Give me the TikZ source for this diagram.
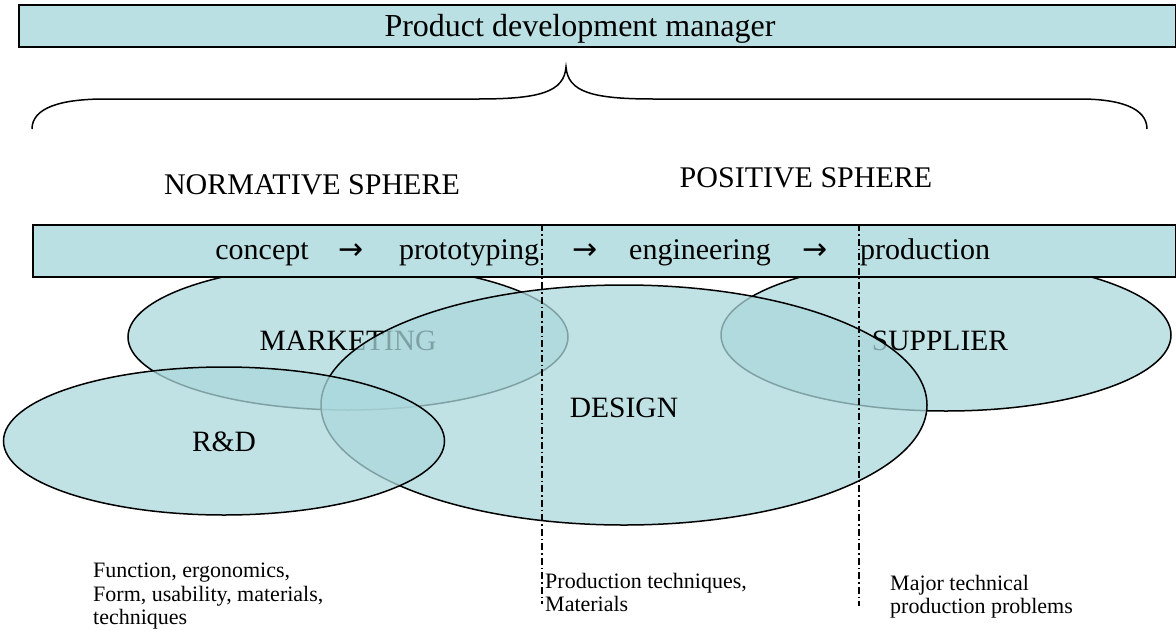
\documentclass[tikz,border=0pt]{standalone}
\usepackage{fontspec}
\setmainfont{Liberation Serif}
\newfontfamily\arrowfont{DejaVu Sans}
\usetikzlibrary{shapes.geometric}
\definecolor{boxblue}{RGB}{187,224,227}
\definecolor{ellblue}{RGB}{171,216,220}
\begin{document}
\begin{tikzpicture}[x=1pt,y=-1pt,
  boxstyle/.style={draw=black,line width=2pt,fill=boxblue,inner sep=0pt,anchor=north west},
  ell/.style={ellipse,draw=black,line width=1.5pt,fill=ellblue,fill opacity=0.75,text opacity=1,inner sep=0pt},
  elltext/.style={font=\fontsize{29.5}{32}\selectfont,anchor=base,inner sep=0pt},
  bartext/.style={font=\fontsize{30}{32}\selectfont,anchor=base,inner sep=0pt},
  arrowtext/.style={font=\arrowfont\fontsize{30}{32}\selectfont,anchor=base,inner sep=0pt},
  spheretext/.style={font=\fontsize{30}{32}\selectfont,anchor=base,inner sep=0pt},
  notetext/.style={font=\fontsize{22}{23.5}\selectfont,align=left,anchor=north west,inner sep=0pt},
  dashdot/.style={line width=1.3pt,dash pattern=on 7pt off 3pt on 1.5pt off 3pt}
]
\useasboundingbox (0,0) rectangle (1176,630);

% top box
\node[boxstyle,minimum width=1157pt,minimum height=42pt] (pdm) at (18,4) {};
\node[anchor=base,inner sep=0pt,font=\fontsize{32}{34}\selectfont] (pdmtext) at (580,36) {Product development manager};

% brace
\coordinate (bl) at (32,129);
\coordinate (br) at (1147,129);
\coordinate (btip) at (566,67);
\draw[line width=1.5pt] (bl) .. controls (32,108) and (60,99) .. (105,99) -- (478,99)
  .. controls (540,99) and (564,92) .. (btip)
  .. controls (568,92) and (592,99) .. (654,99) -- (1080,99)
  .. controls (1120,99) and (1147,108) .. (br);

% sphere labels
\node[spheretext] (norm) at (312,194) {NORMATIVE SPHERE};
\node[spheretext] (pos) at (806,187) {POSITIVE SPHERE};

% ellipses (bottom to top)
\node[ell,minimum width=440pt,minimum height=146pt] (mkt) at (348,337) {};
\node[elltext] (mktl) at (348,350) {MARKETING};
\node[ell,minimum width=450pt,minimum height=152pt] (sup) at (946,335) {};
\node[elltext] (supl) at (940,350) {SUPPLIER};
\node[ell,minimum width=606pt,minimum height=240pt] (des) at (624,405) {};
\node[elltext] (desl) at (624,417) {DESIGN};
\node[ell,minimum width=441pt,minimum height=148pt] (rd) at (224,441) {};
\node[elltext] (rdl) at (224,451) {R\&D};

% process bar
\node[boxstyle,minimum width=1143pt,minimum height=52pt] (bar) at (32,224) {};
\node[bartext] (c1) at (262,259) {concept};
\node[arrowtext] (a1) at (351,259) {→};
\node[bartext] (c2) at (469,259) {prototyping};
\node[arrowtext] (a2) at (585,259) {→};
\node[bartext] (c3) at (700,259) {engineering};
\node[arrowtext] (a3) at (815,259) {→};
\node[bartext] (c4) at (925,259) {production};

% dash-dot separators
\coordinate (d1t) at (542,224);
\coordinate (d1b) at (542,604);
\coordinate (d2t) at (859,224);
\coordinate (d2b) at (859,606);
\draw[dashdot] (d1t) -- (d1b);
\draw[dashdot] (d2t) -- (d2b);

% notes
\node[notetext] (n1) at (93,563) {Function, ergonomics,\\Form, usability, materials,\\techniques};
\node[notetext] (n2) at (545,573) {Production techniques,\\Materials};
\node[notetext] (n3) at (890,575) {Major technical\\production problems};
\end{tikzpicture}
\end{document}
